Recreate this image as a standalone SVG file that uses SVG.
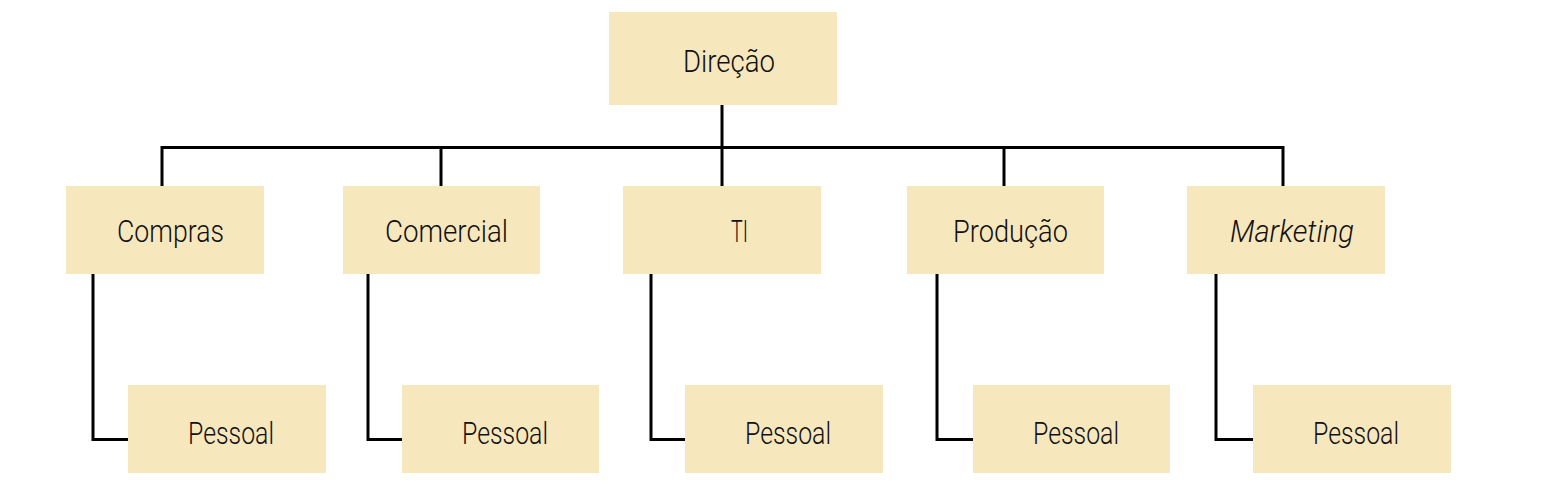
<svg xmlns="http://www.w3.org/2000/svg" width="1547" height="486" viewBox="0 0 1547 486">
<style>
.box{fill:#F7E7BD}
.t{font-family:Roboto,"Liberation Sans",Arial,sans-serif;font-weight:300;font-size:31px;fill:#111}
.i{font-style:italic}
.c{fill:none;stroke:#000;stroke-width:3}
</style>
<rect width="1547" height="486" fill="#fff"/>
<g id="connectors">
<path class="c" d="M722 105 V186"/>
<path class="c" d="M162 186 V147.5 H1283 V186"/>
<path class="c" d="M441 147.5 V186"/>
<path class="c" d="M1004 147.5 V186"/>
<path class="c" d="M93 274 V439.5 H128"/>
<path class="c" d="M368 274 V439.5 H402"/>
<path class="c" d="M651 274 V439.5 H685"/>
<path class="c" d="M937 274 V439.5 H973"/>
<path class="c" d="M1216 274 V439.5 H1253"/>
</g>
<g id="direcao"><rect class="box" x="609" y="12" width="228" height="93"/><text class="t" x="683" y="72" textLength="92" lengthAdjust="spacingAndGlyphs">Direção</text></g>
<g id="compras"><rect class="box" x="66" y="186" width="198" height="88"/><text class="t" x="117" y="242" textLength="107" lengthAdjust="spacingAndGlyphs">Compras</text></g>
<g id="comercial"><rect class="box" x="343" y="186" width="197" height="88"/><text class="t" x="385" y="242" textLength="123" lengthAdjust="spacingAndGlyphs">Comercial</text></g>
<g id="ti"><rect class="box" x="623" y="186" width="198" height="88"/><text class="t" x="731" y="242" textLength="17" lengthAdjust="spacingAndGlyphs">TI</text></g>
<g id="producao"><rect class="box" x="907" y="186" width="197" height="88"/><text class="t" x="953" y="242" textLength="115" lengthAdjust="spacingAndGlyphs">Produção</text></g>
<g id="marketing"><rect class="box" x="1187" y="186" width="198" height="88"/><text class="t i" x="1230" y="242" textLength="124" lengthAdjust="spacingAndGlyphs">Marketing</text></g>
<g id="pessoal1"><rect class="box" x="128" y="385" width="198" height="88"/><text class="t" x="188" y="444" textLength="86" lengthAdjust="spacingAndGlyphs">Pessoal</text></g>
<g id="pessoal2"><rect class="box" x="402" y="385" width="197" height="88"/><text class="t" x="462" y="444" textLength="86" lengthAdjust="spacingAndGlyphs">Pessoal</text></g>
<g id="pessoal3"><rect class="box" x="685" y="385" width="198" height="88"/><text class="t" x="745" y="444" textLength="86" lengthAdjust="spacingAndGlyphs">Pessoal</text></g>
<g id="pessoal4"><rect class="box" x="973" y="385" width="197" height="88"/><text class="t" x="1033" y="444" textLength="86" lengthAdjust="spacingAndGlyphs">Pessoal</text></g>
<g id="pessoal5"><rect class="box" x="1253" y="385" width="198" height="88"/><text class="t" x="1313" y="444" textLength="86" lengthAdjust="spacingAndGlyphs">Pessoal</text></g>
</svg>
